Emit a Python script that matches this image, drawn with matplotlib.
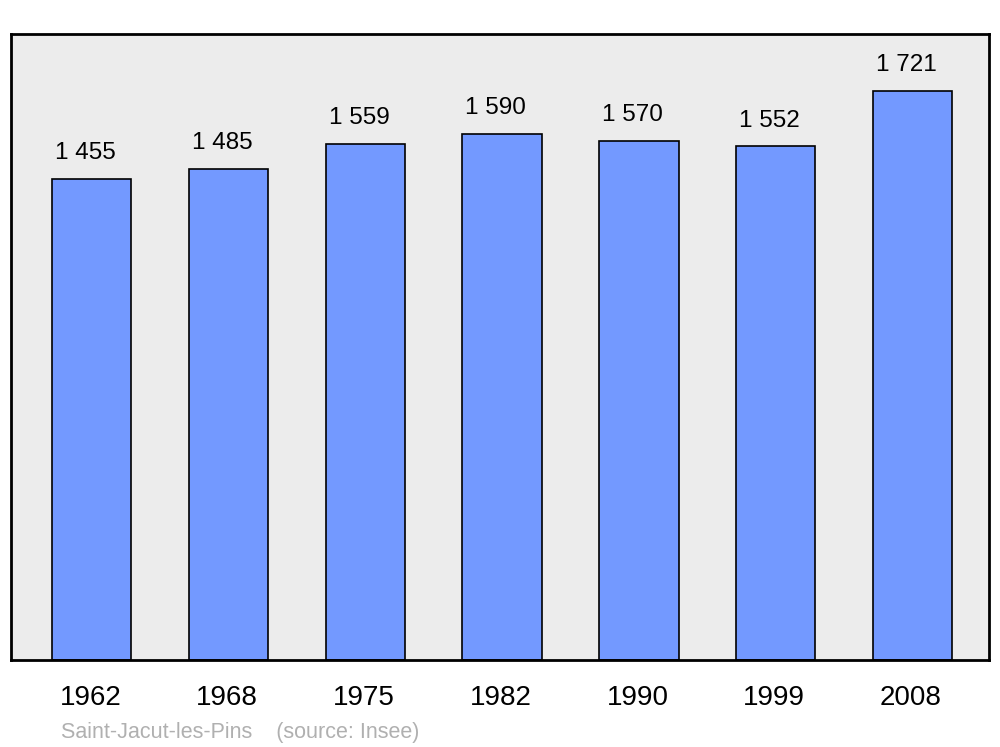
import matplotlib
matplotlib.use('Agg')
from matplotlib import pyplot
import numpy as np

years = ['1962', '1968', '1975', '1982', '1990', '1999', '2008']
population = [1455, 1485, 1559, 1590, 1570, 1552, 1721]
value_labels = ['1 455', '1 485', '1 559', '1 590', '1 570', '1 552', '1 721']
footer = 'Saint-Jacut-les-Pins    (source: Insee)'

pyplot.rcParams['font.family'] = ['Liberation Sans', 'DejaVu Sans']

fig = pyplot.figure(figsize=(10, 7.47), dpi=100)
ax = fig.add_axes([0.011, 0.1165, 0.978, 0.838])
ax.set_facecolor('#ececec')

x = np.arange(len(years))
ax.bar(x, population, width=0.58, color='#7399ff', edgecolor='black', linewidth=1.2, zorder=2)

# value labels sit a little left of bar centre, as in the original
for xi, val, lab in zip(x, population, value_labels):
	ax.text(xi - 0.045, val + 45, lab, ha='center', va='bottom', fontsize=17.5)

ax.set_xlim(-0.59, 6.56)
ax.set_ylim(0, 1892)
ax.set_yticks([])
ax.set_xticks(x - 0.01, labels=years, fontsize=20)
ax.tick_params(axis='x', length=0, pad=18)
for sp in ax.spines.values():
	sp.set_linewidth(2)

fig.text(0.061, 0.005, footer, fontsize=15.5, color='#b0b0b0', ha='left', va='bottom')

pyplot.savefig('out.png', dpi=100)
pyplot.close()
